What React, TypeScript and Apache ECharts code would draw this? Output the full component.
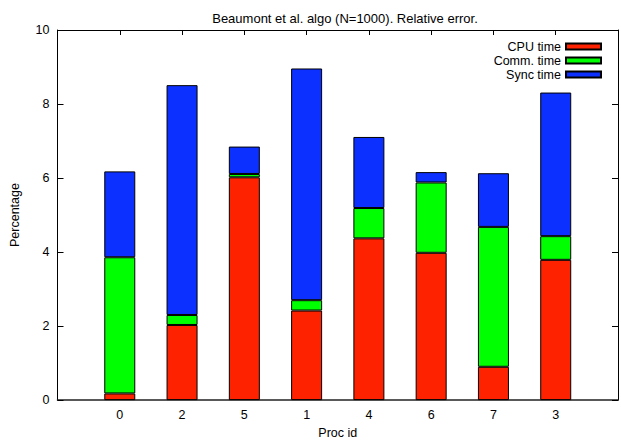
import React, { useEffect, useRef } from "react";
import * as echarts from "echarts";

const procIds = ["0", "2", "5", "1", "4", "6", "7", "3"];
const cpuTime = [0.18, 2.03, 6.02, 2.42, 4.37, 3.98, 0.9, 3.79];
const commTime = [3.68, 0.27, 0.09, 0.28, 0.82, 1.9, 3.78, 0.64];
const syncTime = [2.32, 6.21, 0.74, 6.26, 1.92, 0.28, 1.45, 3.88];
const yTicks = [0, 2, 4, 6, 8, 10];

const FONT = "'Liberation Sans', Arial, Helvetica, sans-serif";
const FS = 12.5;

export default function App() {
  const ref = useRef<HTMLDivElement>(null);
  useEffect(() => {
    if (!ref.current) return;
    document.body.style.margin = "0";
    document.documentElement.style.overflow = "hidden";
    document.body.style.overflow = "hidden";
    const chart = echarts.init(ref.current, null, { renderer: "svg" });
    // padded categories so the x range spans one empty slot on each side
    const cats = ["", ...procIds, ""];
    const pad = (arr: number[]) => ["-", ...arr, "-"];
    const barStyle = (color: string) => ({
      color,
      borderColor: "#000",
      borderWidth: 1,
    });
    chart.setOption({
      animation: false,
      textStyle: { fontFamily: FONT },
      title: {
        text: "Beaumont et al. algo (N=1000). Relative error.",
        left: 340,
        textAlign: "center",
        top: 7,
        textStyle: { fontSize: 13, fontWeight: "normal", color: "#000", fontFamily: FONT },
      },
      legend: {
        orient: "vertical",
        right: 14,
        top: 35,
        align: "right",
        itemWidth: 35,
        itemHeight: 6,
        itemGap: 1,
        icon: "rect",
        textStyle: { fontSize: FS, color: "#000", lineHeight: 12, fontFamily: FONT },
        data: ["CPU time", "Comm. time", "Sync time"],
      },
      grid: { left: 57, right: -1, top: 30, bottom: 39, containLabel: false },
      xAxis: [
        {
          type: "category",
          data: cats,
          boundaryGap: false,
          name: "Proc id",
          nameLocation: "middle",
          nameGap: 24,
          nameTextStyle: { fontSize: FS, color: "#000", fontFamily: FONT },
          axisLine: { show: true, onZero: false, lineStyle: { color: "#222", width: 1.5 } },
          axisTick: { show: false },
          axisLabel: { fontSize: FS, color: "#000", margin: 8, interval: 0 },
          splitLine: { show: false },
        },
        {
          type: "category",
          data: cats,
          boundaryGap: false,
          position: "top",
          axisLine: { show: true, onZero: false, lineStyle: { color: "#000", width: 1 } },
          axisTick: { show: true, inside: true, length: 5, interval: 0, lineStyle: { color: "#000" } },
          axisLabel: { show: false },
          splitLine: { show: false },
        },
      ],
      yAxis: [
        {
          type: "value",
          min: yTicks[0],
          max: yTicks[yTicks.length - 1],
          interval: 2,
          name: "Percentage",
          nameLocation: "middle",
          nameGap: 36.5,
          nameTextStyle: { fontSize: FS, color: "#000", fontFamily: FONT },
          axisLine: { show: true, onZero: false, lineStyle: { color: "#000", width: 1 } },
          axisTick: { show: true, inside: true, length: 6, lineStyle: { color: "#000" } },
          axisLabel: { fontSize: FS, color: "#000", margin: 8 },
          splitLine: { show: false },
        },
        {
          type: "value",
          position: "right",
          min: yTicks[0],
          max: yTicks[yTicks.length - 1],
          interval: 2,
          axisLine: { show: true, onZero: false, lineStyle: { color: "#000", width: 1 } },
          axisTick: { show: true, inside: true, length: 6, lineStyle: { color: "#000" } },
          axisLabel: { show: false },
          splitLine: { show: false },
        },
      ],
      series: [
        { name: "CPU time", type: "bar", stack: "total", barWidth: 31, data: pad(cpuTime), itemStyle: barStyle("#ff2200") },
        { name: "Comm. time", type: "bar", stack: "total", barWidth: 31, data: pad(commTime), itemStyle: barStyle("#00ff00") },
        { name: "Sync time", type: "bar", stack: "total", barWidth: 31, data: pad(syncTime), itemStyle: barStyle("#0c30ff") },
      ],
    });
    return () => chart.dispose();
  }, []);
  return <div ref={ref} style={{ width: 621, height: 444 }} />;
}
